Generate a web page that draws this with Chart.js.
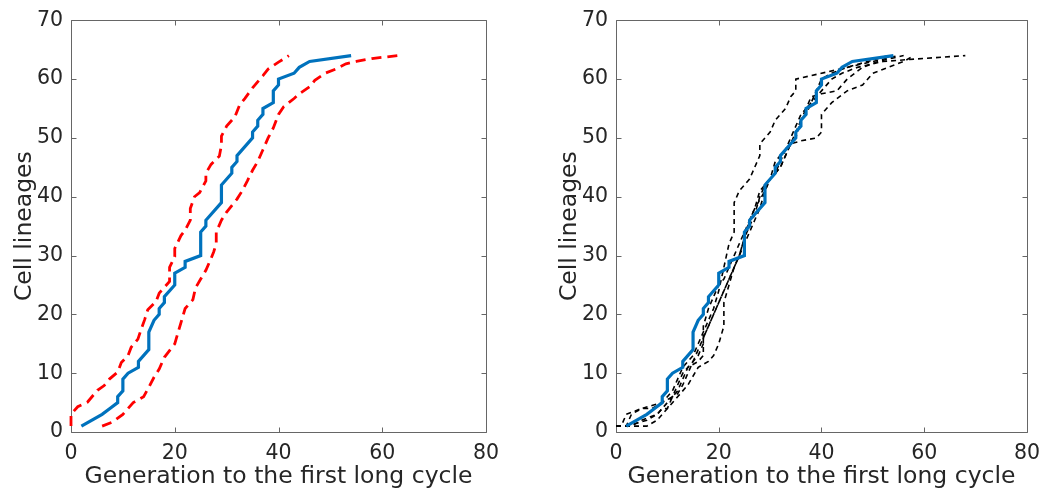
<!DOCTYPE html>
<html>
<head>
<meta charset="utf-8">
<script src="https://cdn.jsdelivr.net/npm/chart.js@4.4.0/dist/chart.umd.min.js"></script>
<style>
  body { margin: 0; background: #fff; width: 1049px; height: 494px; position: relative; overflow: hidden; }
  canvas { position: absolute; top: 0; }
</style>
</head>
<body>
<canvas id="left" width="540" height="494" style="left:0"></canvas>
<canvas id="right" width="504" height="494" style="left:545px"></canvas>
<script>
// observed data (blue, same in both panels)
const obsX = [2,6,7.5,9,9,10,10,11,13,13,15,15,16,17,17,18,18,20,20,22,22,25,25,26,26,29,29,31,31,32,32,35,35,36,36,37,37,39,39,40,40,43,44,46,54];
const obsY = [1,3,4,5,6,7,9,10,11,12,14,17,19,20,21,22,23,25,27,28,29,30,34,35,36,39,42,44,45,46,47,50,51,52,53,54,55,56,58,59,60,61,62,63,64];

// confidence bounds (red dashed, left panel)
const upperX = [0,0,1.3,3.2,5.1,6.4,7.4,9,9.7,11,11.6,12.9,13.5,14.2,14.8,16.4,17,19,19,20,20,21.2,22,23,23,23.8,24.8,26,26,27,28.6,29,29,30,31.6,32.5,33.5,35,37,38,40,41.5,42];
const upperY = [1,3,4.3,5.1,7.1,7.9,9,10.2,11.8,13,14.4,15.8,17.4,19.1,20.8,22.2,23.6,25.6,28,29.8,31.2,33.4,34.3,36,38,40,40.7,42.7,44,45.5,46.9,48.8,50.3,52,53.6,55.6,56.7,58.5,60.6,61.7,62.9,63.7,64];
const lowerX = [6,8,10,12,14,15,16,17,18,20,21,22,23.5,24,25,26,27,27.5,28,28,29,30,31,32,33,34,35,36,37,38,39,40,41,43,44,46,47,49,51,53,55,58,63];
const lowerY = [1,1.7,3,5,6,7.6,9.3,10.7,12.7,15,18,21,22.5,24.5,26,27.5,29.5,30.6,32,34,36,37.4,38.5,39.6,41,42.7,44.5,46,48,50,51.7,54,55.3,56.7,57.5,58.7,59.8,61,61.7,62.6,63,63.5,64];

// simulated runs (black dashed, right panel)
const sim1X = [0,2,3,5,7,9,10,11,12,13,14,15,16,17,18,19,20,21,22,23,23,24,26,27,28,28,30,31,33,34,35,35,38,41,45,50,55];
const sim1Y = [1,1,3,4,4.5,5,6,7,9,11,12,13,15,17,19,21,24,28,32,34,39,41,43,45,47,49,51,53,55,57,58,60,60.6,61.2,62,63,64];
const sim2X = [0,3,5,8,9,10,11,12,13,14,15,16,17,18,19,20,21,22,23,24,25,26,27,28,29,30,31,32,33,34,35,36,37,38,39,40,42,45,49,53];
const sim2Y = [1,1,2,3,4,5,6,6.5,8,10,12,14,16,18,20,22,24,26,28,30,32,34,36,38,41,43,44,45,47,49,51,53,54,56,58,60,61,62,63,64];
const sim3X = [0,2,4,6,8,9,10,11,12,13,14,16,17,17,18,19,20,21,22,23,24,25,26,27,28,29,31,32,33,35,36,37,38,40,42,44,47,52,58,68];
const sim3Y = [1,1,1.5,2,3,4,4,6,7,9,11,12,13,16,18,20,22,24,26,28,30,33,35,37,40,42,44,46,48,50,53,55,56,58,60,61,62,63,63.4,64];
const sim4X = [0,1,2,5,7,9,11,12,13,15,16,17,17,18,19,20,21,22,23,24,25,26,27,28,30,31,33,34,35,36,37,38,40,43,45,48,51,56];
const sim4Y = [1,1,3,4,4,5,6,8,10,12,13,15,18,21,23,25,26,28,30,32,34,36,38,41,43,46,48,50,52,54,55,57,57.5,58,60,62,63,64];
const sim5X = [0,4,6,8,10,12,14,16,18,19,20,21,21,22,23,24,25,26,27,29,30,32,33,34,36,39,40,40,42,45,48,50,53,56,58];
const sim5Y = [1,1,1,2,4,6,8,11,12,13,15,18,22,25,28,30,33,36,38,41,43,45,47,49,49.5,50,51,54,56,58,59,61,62,63,64];

const xTitle = 'Generation to the first long cycle';
const yTitle = 'Cell lineages';

function pts(xs, ys) {
  return xs.map((x, i) => ({ x: x, y: ys[i] }));
}

// box + inward tick marks, matlab style
const boxPlugin = {
  id: 'box',
  beforeDatasetsDraw(chart) {
    const { ctx, chartArea: a, scales } = chart;
    const L = Math.round(a.left) + 0.5, R = Math.round(a.right) + 0.5;
    const T = Math.round(a.top) + 0.5, B = Math.round(a.bottom) + 0.5;
    ctx.save();
    ctx.strokeStyle = '#666';
    ctx.lineWidth = 1;
    ctx.beginPath();
    ctx.rect(L, T, R - L, B - T);
    scales.x.ticks.forEach(t => {
      const px = Math.round(scales.x.getPixelForValue(t.value)) + 0.5;
      ctx.moveTo(px, B); ctx.lineTo(px, B - 5);
      ctx.moveTo(px, T); ctx.lineTo(px, T + 5);
    });
    scales.y.ticks.forEach(t => {
      const py = Math.round(scales.y.getPixelForValue(t.value)) + 0.5;
      ctx.moveTo(L, py); ctx.lineTo(L + 5, py);
      ctx.moveTo(R, py); ctx.lineTo(R - 5, py);
    });
    ctx.stroke();
    ctx.restore();
  }
};

function makeOptions(padRight) {
  return {
    responsive: false,
    animation: false,
    layout: { padding: { left: 0, top: 16, right: padRight, bottom: 0 } },
    plugins: { legend: { display: false }, tooltip: { enabled: false } },
    elements: { point: { radius: 0 }, line: { tension: 0 } },
    scales: {
      x: {
        type: 'linear', min: 0, max: 80,
        grid: { display: false, drawTicks: false },
        border: { display: false },
        ticks: { stepSize: 20, padding: 9, color: '#262626', font: { family: 'DejaVu Sans', size: 20.5 } },
        title: { display: true, text: xTitle, color: '#262626', padding: { top: 0, bottom: 3 }, font: { family: 'DejaVu Sans', size: 23.5 } },
        afterFit(scale) { scale.height = 62; }
      },
      y: {
        type: 'linear', min: 0, max: 70,
        grid: { display: false, drawTicks: false },
        border: { display: false },
        ticks: { stepSize: 10, padding: 8, color: '#262626', font: { family: 'DejaVu Sans', size: 20.5 } },
        title: { display: true, text: yTitle, color: '#262626', padding: { top: 11, bottom: 0 }, font: { family: 'DejaVu Sans', size: 23.5 } },
        afterFit(scale) { scale.width = 71; }
      }
    }
  };
}

const blueLine = {
  data: pts(obsX, obsY), borderColor: '#0072BD', borderWidth: 3.2, showLine: true, fill: false, clip: 4
};

new Chart(document.getElementById('left'), {
  type: 'scatter',
  data: {
    datasets: [
      Object.assign({}, blueLine),
      { data: pts(upperX, upperY), borderColor: '#FF0000', borderWidth: 2.8, borderDash: [10, 6], showLine: true, fill: false, clip: 4 },
      { data: pts(lowerX, lowerY), borderColor: '#FF0000', borderWidth: 2.8, borderDash: [10, 6], showLine: true, fill: false, clip: 4 }
    ]
  },
  options: makeOptions(54),
  plugins: [boxPlugin]
});

const sims = [[sim1X, sim1Y], [sim2X, sim2Y], [sim3X, sim3Y], [sim4X, sim4Y], [sim5X, sim5Y]];
new Chart(document.getElementById('right'), {
  type: 'scatter',
  data: {
    datasets: [Object.assign({}, blueLine, { data: pts(obsX, obsY) })].concat(sims.map(s => ({
      data: pts(s[0], s[1]), borderColor: '#000', borderWidth: 1.6, borderDash: [5, 4], showLine: true, fill: false, clip: 4
    })))
  },
  options: makeOptions(18),
  plugins: [boxPlugin]
});
</script>
</body>
</html>
